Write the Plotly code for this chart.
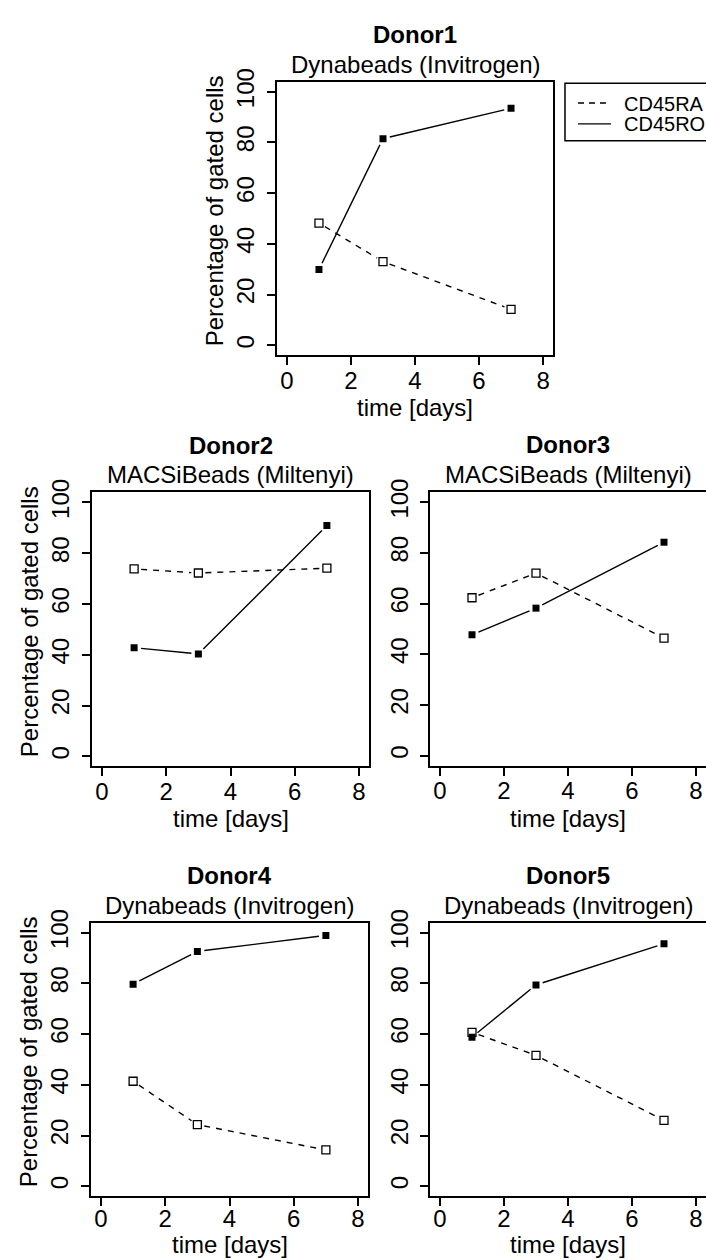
import plotly.graph_objects as go

# ---------------- data ----------------
days = [1, 3, 7]
donor_names = ["Donor1", "Donor2", "Donor3", "Donor4", "Donor5"]
bead_methods = ["Dynabeads (Invitrogen)", "MACSiBeads (Miltenyi)", "MACSiBeads (Miltenyi)",
                "Dynabeads (Invitrogen)", "Dynabeads (Invitrogen)"]
cd45ra_donor1 = [48.2, 33.0, 14.2]
cd45ro_donor1 = [29.9, 81.5, 93.5]
cd45ra_donor2 = [73.8, 72.2, 74.1]
cd45ro_donor2 = [42.8, 40.3, 90.9]
cd45ra_donor3 = [62.3, 72.0, 46.4]
cd45ro_donor3 = [47.7, 58.2, 84.2]
cd45ra_donor4 = [41.4, 24.3, 14.3]
cd45ro_donor4 = [79.7, 92.6, 98.9]
cd45ra_donor5 = [60.7, 51.6, 26.0]
cd45ro_donor5 = [58.8, 79.4, 95.6]
x_ticks = [0, 2, 4, 6, 8]
y_ticks = [0, 20, 40, 60, 80, 100]
legend_labels = ["CD45RA", "CD45RO"]
x_title = "time [days]"
y_title = "Percentage of gated cells"

ra_series = [cd45ra_donor1, cd45ra_donor2, cd45ra_donor3, cd45ra_donor4, cd45ra_donor5]
ro_series = [cd45ro_donor1, cd45ro_donor2, cd45ro_donor3, cd45ro_donor4, cd45ro_donor5]

# ---------------- layout geometry (pixels) ----------------
W, H = 706, 1260
FONT = "Liberation Sans, Arial, Helvetica, sans-serif"
FS = 24
# left, right, top, bottom, clipped-on-right
panels = [
    (276.7, 553.3, 69.3, 346.0, False),
    (91.7, 369.3, 484.3, 761.3, False),
    (430.0, 706.0, 484.0, 760.7, True),
    (90.7, 368.3, 919.0, 1195.7, False),
    (430.0, 706.0, 919.0, 1195.7, True),
]
YR = [-4, 104]


def px_x(v):
    return v / W


def px_y(v):
    return 1 - v / H


def gapped(xs, ys, sx, sy, gap=7.0):
    ox, oy = [], []
    for i in range(len(xs) - 1):
        dx = xs[i + 1] - xs[i]
        dy = ys[i + 1] - ys[i]
        L = ((dx * sx) ** 2 + (dy * sy) ** 2) ** 0.5
        if L <= 2 * gap:
            continue
        f = gap / L
        ox += [xs[i] + dx * f, xs[i + 1] - dx * f, None]
        oy += [ys[i] + dy * f, ys[i + 1] - dy * f, None]
    return ox, oy


fig = go.Figure()
annotations = []
layout_axes = {}

for i, (l, r, t, b, clipped) in enumerate(panels):
    n = i + 1
    bottom_row = b + 53 + 15 > H
    xr = [-0.3125, 8.3125] if clipped else [-0.32, 8.32]
    sx = (r - l) / (xr[1] - xr[0])
    sy = (b - t) / (YR[1] - YR[0])
    xa = "x" if n == 1 else f"x{n}"
    ya = "y" if n == 1 else f"y{n}"
    common = dict(showgrid=False, zeroline=False, showline=True, linecolor="black",
                  linewidth=1.5, ticks="outside", ticklen=8, tickwidth=1.5,
                  tickcolor="black", tickfont=dict(family=FONT, size=FS, color="black"))
    layout_axes["xaxis" if n == 1 else f"xaxis{n}"] = dict(
        domain=[px_x(l), min(1.0, px_x(r))], range=xr, tickvals=x_ticks,
        anchor=ya, mirror=True, ticklabelstandoff=(-8 if bottom_row else -5), **common)
    layout_axes["yaxis" if n == 1 else f"yaxis{n}"] = dict(
        domain=[px_y(b), px_y(t)], range=YR, tickvals=y_ticks, tickangle=-90,
        anchor=xa, mirror=not clipped, ticklabelstandoff=3, **common)

    ra = ra_series[i]
    ro = ro_series[i]
    gx, gy = gapped(days, ra, sx, sy)
    fig.add_trace(go.Scatter(x=gx, y=gy, mode="lines", xaxis=xa, yaxis=ya,
                             line=dict(color="black", width=1.4, dash="6px,6px"),
                             showlegend=False, hoverinfo="skip"))
    gx, gy = gapped(days, ro, sx, sy)
    fig.add_trace(go.Scatter(x=gx, y=gy, mode="lines", xaxis=xa, yaxis=ya,
                             line=dict(color="black", width=1.4),
                             showlegend=False, hoverinfo="skip"))
    fig.add_trace(go.Scatter(x=days, y=ra, mode="markers", xaxis=xa, yaxis=ya,
                             marker=dict(symbol="square-open", size=8, color="black",
                                         line=dict(width=1.3, color="black")),
                             showlegend=False, name=legend_labels[0]))
    fig.add_trace(go.Scatter(x=days, y=ro, mode="markers", xaxis=xa, yaxis=ya,
                             marker=dict(symbol="square", size=7, color="black"),
                             showlegend=False, name=legend_labels[1]))

    cx = l + (4 - xr[0]) * sx  # centre of plot region (x = 4)
    annotations.append(dict(text="<b>" + donor_names[i] + "</b>", x=px_x(cx), y=px_y(t - 47.5),
                            xref="paper", yref="paper", showarrow=False, xanchor="center",
                            yanchor="middle", font=dict(family=FONT, size=FS, color="black")))
    annotations.append(dict(text=bead_methods[i], x=px_x(cx), y=px_y(t - 17.5),
                            xref="paper", yref="paper", showarrow=False, xanchor="center",
                            yanchor="middle", font=dict(family=FONT, size=FS, color="black")))
    if bottom_row:
        annotations.append(dict(text=x_title, x=px_x(cx), y=px_y(H - 0.5),
                                xref="paper", yref="paper", showarrow=False, xanchor="center",
                                yanchor="bottom", font=dict(family=FONT, size=FS, color="black")))
    else:
        annotations.append(dict(text=x_title, x=px_x(cx), y=px_y(b + 53),
                                xref="paper", yref="paper", showarrow=False, xanchor="center",
                                yanchor="middle", font=dict(family=FONT, size=FS, color="black")))
    if not clipped:
        annotations.append(dict(text=y_title, x=px_x(l - 62), y=px_y((t + b) / 2 - 8),
                                xref="paper", yref="paper", showarrow=False, xanchor="center",
                                yanchor="middle", textangle=-90,
                                font=dict(family=FONT, size=FS, color="black")))

# ---------------- legend (drawn manually) ----------------
shapes = [
    dict(type="rect", xref="paper", yref="paper", x0=px_x(565), x1=1.05,
         y0=px_y(129), y1=px_y(71), line=dict(color="black", width=1.5)),
    dict(type="line", xref="paper", yref="paper", x0=px_x(578), x1=px_x(611),
         y0=px_y(91), y1=px_y(91), line=dict(color="black", width=1.4, dash="6px,5px")),
    dict(type="line", xref="paper", yref="paper", x0=px_x(578), x1=px_x(611),
         y0=px_y(112), y1=px_y(112), line=dict(color="black", width=1.4)),
]
annotations.append(dict(text=legend_labels[0], x=px_x(622), y=px_y(92), xref="paper",
                        yref="paper", showarrow=False, xanchor="left", yanchor="middle",
                        font=dict(family=FONT, size=20, color="black")))
annotations.append(dict(text=legend_labels[1], x=px_x(622), y=px_y(112), xref="paper",
                        yref="paper", showarrow=False, xanchor="left", yanchor="middle",
                        font=dict(family=FONT, size=20, color="black")))

fig.update_layout(width=W, height=H, margin=dict(l=0, r=0, t=0, b=0, pad=0),
                  paper_bgcolor="white", plot_bgcolor="white", showlegend=False,
                  annotations=annotations, shapes=shapes, **layout_axes)

fig.write_html("out.html")
